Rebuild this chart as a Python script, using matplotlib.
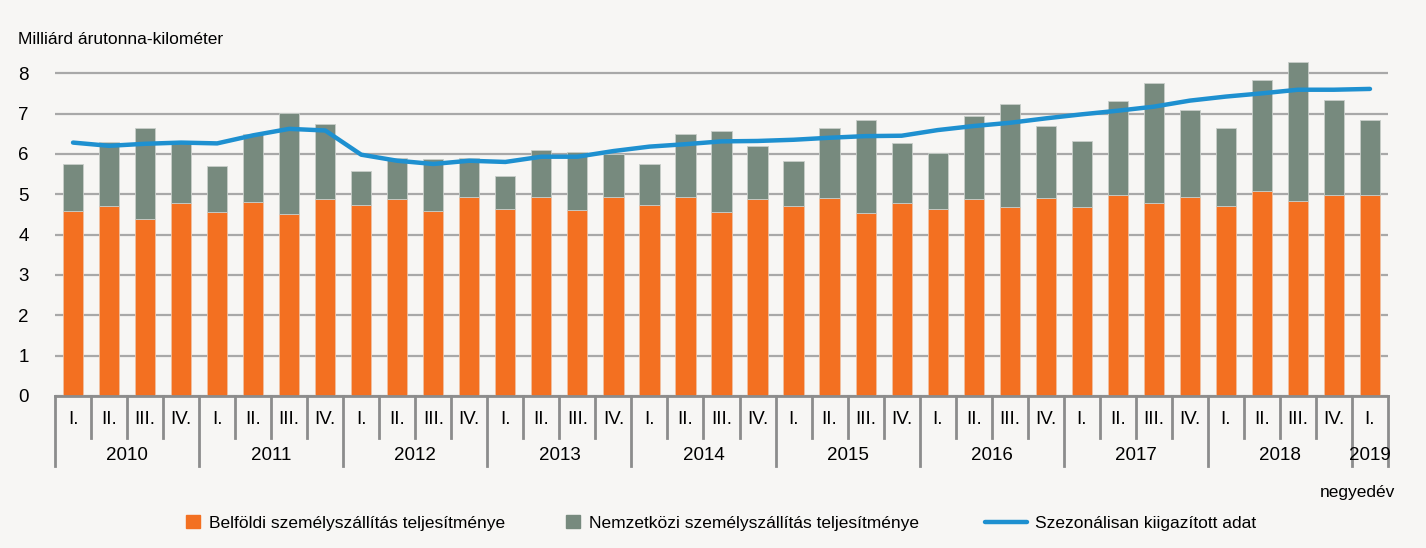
import matplotlib.pyplot as plt
import matplotlib.transforms as mtransforms
from matplotlib.patches import Patch
from matplotlib.lines import Line2D
import numpy as np

plt.rcParams['font.family'] = ['Liberation Sans', 'DejaVu Sans']

# data (billion tonne-km), 2010 I. - 2019 I.
quarters = ['I.', 'II.', 'III.', 'IV.'] * 9 + ['I.']
years = ['2010', '2011', '2012', '2013', '2014', '2015', '2016', '2017', '2018', '2019']
belfoldi = [4.59, 4.71, 4.39, 4.78, 4.55, 4.80, 4.50, 4.88, 4.74, 4.88, 4.58, 4.94,
            4.64, 4.93, 4.60, 4.93, 4.74, 4.93, 4.57, 4.88, 4.71, 4.90, 4.53, 4.78,
            4.63, 4.88, 4.69, 4.90, 4.68, 4.98, 4.78, 4.94, 4.70, 5.09, 4.82, 4.98, 4.98]
nemzetkozi = [1.15, 1.59, 2.25, 1.48, 1.15, 1.70, 2.51, 1.86, 0.83, 1.02, 1.30, 0.96,
              0.81, 1.17, 1.45, 1.07, 1.00, 1.57, 2.00, 1.32, 1.12, 1.74, 2.30, 1.50,
              1.40, 2.06, 2.54, 1.78, 1.63, 2.34, 2.97, 2.15, 1.95, 2.73, 3.46, 2.35, 1.86]
szezonalis = [6.28, 6.20, 6.25, 6.28, 6.26, 6.46, 6.62, 6.58, 5.98, 5.83, 5.75, 5.83,
              5.80, 5.93, 5.93, 6.07, 6.18, 6.24, 6.31, 6.32, 6.35, 6.40, 6.44, 6.45,
              6.59, 6.69, 6.77, 6.88, 6.98, 7.07, 7.17, 7.32, 7.42, 7.50, 7.59, 7.59, 7.61]

orange = '#f37021'
grey = '#778a7e'
blue = '#1e90d0'
bg = '#f7f6f4'
fs = 12.5

W, H = 1426, 548
fig = plt.figure(figsize=(W / 100, H / 100), dpi=100, facecolor=bg)
ax = fig.add_axes([55 / W, 1 - 396 / H, (1388 - 55) / W, (396 - 53) / H])
ax.set_facecolor(bg)

x = np.arange(len(belfoldi))
ax.bar(x, belfoldi, width=0.56, color=orange, edgecolor='#f0c0a0', linewidth=0.6, zorder=2)
ax.bar(x, nemzetkozi, width=0.56, bottom=belfoldi, color=grey, edgecolor='#c8cec9',
       linewidth=0.6, zorder=2)
ax.plot(x, szezonalis, color=blue, lw=3.2, solid_capstyle='round', zorder=3)

ax.set_xlim(-0.5, len(x) - 0.5)
ax.set_ylim(0, 8.5)
ax.set_yticks(range(9))
ax.tick_params(axis='y', length=0, pad=19, labelsize=fs + 1)
ax.set_xticks([])
ax.yaxis.grid(True, color='#a8a8a8', lw=1.6)
ax.set_axisbelow(True)
for s in ['top', 'left', 'right']:
    ax.spines[s].set_visible(False)
ax.spines['bottom'].set_color('#8c8c8c')
ax.spines['bottom'].set_linewidth(2)
ax.spines['bottom'].set_zorder(4)

# category axis: quarters and years
ah = 396 - 53
trans = mtransforms.blended_transform_factory(ax.transData, ax.transAxes)
for k in range(len(x) + 1):
    long_ = (k % 4 == 0) or k == len(x)
    depth = 70 if long_ else 42
    ax.plot([k - 0.5, k - 0.5], [0, -depth / ah], transform=trans, color='#8c8c8c',
            lw=2, clip_on=False)
for i, q in enumerate(quarters):
    ax.text(i, -23 / ah, q, transform=trans, ha='center', va='center', fontsize=fs + 1)
for j, y in enumerate(years):
    xc = 4 * j + 1.5 if j < 9 else 36
    ax.text(xc, -60 / ah, y, transform=trans, ha='center', va='center', fontsize=fs + 1)

fig.text(18 / W, 1 - 40 / H, 'Milliárd árutonna-kilométer', ha='left', va='center', fontsize=fs)
fig.text(1357 / W, 1 - 493 / H, 'negyedév', ha='center', va='center', fontsize=fs)

ly = 1 - 523 / H
leg_kw = dict(frameon=False, fontsize=fs, loc='center left', handletextpad=0.5, borderaxespad=0,
              borderpad=0)
fig.legend(handles=[Patch(color=orange)], labels=['Belföldi személyszállítás teljesítménye'],
           bbox_to_anchor=(186 / W, ly), handlelength=0.8, handleheight=0.8, **leg_kw)
fig.legend(handles=[Patch(color=grey)], labels=['Nemzetközi személyszállítás teljesítménye'],
           bbox_to_anchor=(566 / W, ly), handlelength=0.8, handleheight=0.8, **leg_kw)
fig.legend(handles=[Line2D([], [], color=blue, lw=3.2, solid_capstyle='round')],
           labels=['Szezonálisan kiigazított adat'],
           bbox_to_anchor=(985 / W, ly), handlelength=2.4, **leg_kw)

fig.savefig('out.png', dpi=100, facecolor=bg)
